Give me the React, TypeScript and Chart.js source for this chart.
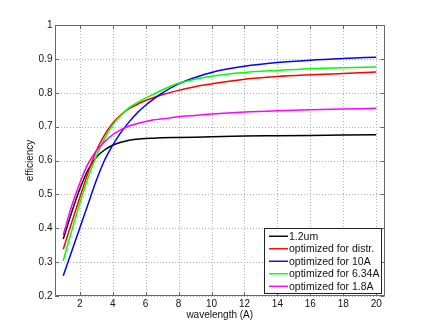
import React, { useEffect, useRef } from 'react';
import { Chart, registerables } from 'chart.js';

Chart.register(...registerables);

// wavelength (A)
const wavelength = [1, 1.5, 2, 2.5, 3, 3.5, 4, 4.5, 5, 5.5, 6, 6.5, 7, 8, 9, 10, 12, 14, 16, 18, 20];

const eff12um = [0.368, 0.445, 0.515, 0.572, 0.609, 0.631, 0.645, 0.654, 0.66, 0.663, 0.665, 0.666, 0.667, 0.668, 0.669, 0.67, 0.672, 0.673, 0.674, 0.675, 0.676];
const effDistr = [0.338, 0.415, 0.49, 0.563, 0.628, 0.675, 0.71, 0.735, 0.753, 0.766, 0.777, 0.786, 0.794, 0.807, 0.818, 0.826, 0.84, 0.848, 0.853, 0.857, 0.861];
const eff10A = [0.26, 0.33, 0.4, 0.47, 0.54, 0.6, 0.645, 0.683, 0.714, 0.741, 0.763, 0.782, 0.799, 0.826, 0.845, 0.86, 0.878, 0.889, 0.896, 0.901, 0.905];
const eff634A = [0.304, 0.39, 0.472, 0.548, 0.612, 0.664, 0.705, 0.733, 0.756, 0.771, 0.784, 0.796, 0.808, 0.828, 0.84, 0.849, 0.86, 0.866, 0.871, 0.874, 0.876];
const eff18A = [0.38, 0.464, 0.533, 0.59, 0.628, 0.655, 0.676, 0.691, 0.702, 0.709, 0.715, 0.72, 0.723, 0.729, 0.733, 0.737, 0.743, 0.747, 0.75, 0.752, 0.754];

const seriesLabels = ['1.2um', 'optimized for distr.', 'optimized for 10A', 'optimized for 6.34A', 'optimized for 1.8A'];
const seriesValues = [eff12um, effDistr, eff10A, eff634A, eff18A];
const seriesColors = ['#000000', '#ff0000', '#0000ff', '#00ff00', '#ff00ff'];

const xTicks = [2, 4, 6, 8, 10, 12, 14, 16, 18, 20];
const yTicks = [0.2, 0.3, 0.4, 0.5, 0.6, 0.7, 0.8, 0.9, 1];

const xTitle = 'wavelength (A)';
const yTitle = 'efficiency';

const FONT = '"Liberation Sans", Arial, Helvetica, sans-serif';

const framePlugin = {
  id: 'matlabFrame',
  beforeDatasetsDraw(chart: any) {
    const { ctx, chartArea } = chart;
    const { left, right, top, bottom } = chartArea;
    const xs = chart.scales.x;
    const ys = chart.scales.y;
    ctx.save();
    ctx.strokeStyle = '#b0b0b0';
    ctx.lineWidth = 1;
    ctx.setLineDash([1, 2]);
    ctx.beginPath();
    xTicks.forEach((v) => {
      const px = Math.round(xs.getPixelForValue(v)) + 0.5;
      ctx.moveTo(px, top);
      ctx.lineTo(px, bottom);
    });
    yTicks.forEach((v) => {
      const py = Math.round(ys.getPixelForValue(v)) + 0.5;
      ctx.moveTo(left, py);
      ctx.lineTo(right, py);
    });
    ctx.stroke();
    ctx.restore();
  },
  afterDatasetsDraw(chart: any) {
    const { ctx, chartArea } = chart;
    const { left, right, top, bottom } = chartArea;
    const xs = chart.scales.x;
    const ys = chart.scales.y;
    ctx.save();
    ctx.strokeStyle = '#666';
    ctx.lineWidth = 1;
    ctx.beginPath();
    ctx.rect(Math.round(left) + 0.5, Math.round(top) + 0.5, Math.round(right - left) - 1, Math.round(bottom - top) - 1);
    ctx.stroke();
    const tl = 4;
    ctx.beginPath();
    xTicks.forEach((v) => {
      const px = Math.round(xs.getPixelForValue(v)) + 0.5;
      ctx.moveTo(px, bottom);
      ctx.lineTo(px, bottom - tl);
      ctx.moveTo(px, top);
      ctx.lineTo(px, top + tl);
    });
    yTicks.forEach((v) => {
      const py = Math.round(ys.getPixelForValue(v)) + 0.5;
      ctx.moveTo(left, py);
      ctx.lineTo(left + tl, py);
      ctx.moveTo(right, py);
      ctx.lineTo(right - tl, py);
    });
    ctx.stroke();
    ctx.restore();
  },
  afterDraw(chart: any) {
    const { ctx, chartArea } = chart;
    const fontSize = 10.5;
    ctx.save();
    ctx.font = `${fontSize}px ${FONT}`;
    let maxW = 0;
    seriesLabels.forEach((t) => {
      maxW = Math.max(maxW, ctx.measureText(t).width);
    });
    const rowH = 12.5;
    const padL = 4.5;
    const lineLen = 19;
    const gap = 1;
    const w = padL + lineLen + gap + maxW + 3;
    const h = rowH * seriesLabels.length + 3;
    const x1 = Math.round(chartArea.right - 3.5) + 0.5;
    const y1 = Math.round(chartArea.bottom - 3.5) + 0.5;
    const x0 = Math.round(x1 - w) + 0.5;
    const y0 = Math.round(y1 - h) + 0.5;
    ctx.fillStyle = '#ffffff';
    ctx.fillRect(x0, y0, x1 - x0, y1 - y0);
    ctx.strokeStyle = '#222';
    ctx.lineWidth = 1;
    ctx.strokeRect(x0, y0, x1 - x0, y1 - y0);
    ctx.textBaseline = 'middle';
    ctx.textAlign = 'left';
    seriesLabels.forEach((t, i) => {
      const cy = y0 + 1.5 + rowH * (i + 0.5);
      ctx.strokeStyle = seriesColors[i];
      ctx.lineWidth = 1.4;
      ctx.beginPath();
      ctx.moveTo(x0 + padL, cy);
      ctx.lineTo(x0 + padL + lineLen, cy);
      ctx.stroke();
      ctx.fillStyle = '#111';
      ctx.fillText(t, x0 + padL + lineLen + gap, cy + 0.5);
    });
    ctx.restore();
  },
};

export default function App() {
  const canvasRef = useRef<HTMLCanvasElement | null>(null);

  useEffect(() => {
    const canvas = canvasRef.current;
    if (!canvas) return;
    const datasets = seriesLabels.map((label, i) => ({
      label,
      data: wavelength.map((x, j) => ({ x, y: seriesValues[i][j] })),
      borderColor: seriesColors[i],
      backgroundColor: seriesColors[i],
      borderWidth: 1.5,
      pointRadius: 0,
      fill: false,
      cubicInterpolationMode: 'monotone' as const,
      order: seriesLabels.length - i,
    }));

    const chart = new Chart(canvas, {
      type: 'line',
      data: { datasets },
      plugins: [framePlugin],
      options: {
        animation: false,
        responsive: false,
        devicePixelRatio: 1,
        layout: { padding: { left: 0, top: 25, right: 40.5, bottom: 0 } },
        plugins: {
          legend: { display: false },
          tooltip: { enabled: false },
          title: { display: false },
        },
        scales: {
          x: {
            type: 'linear',
            min: 0.5,
            max: 20.5,
            afterBuildTicks: (scale: any) => {
              scale.ticks = xTicks.map((v) => ({ value: v }));
            },
            afterFit: (scale: any) => {
              scale.height = 37;
            },
            grid: { display: false, drawTicks: false },
            border: { display: false },
            ticks: {
              autoSkip: false,
              maxRotation: 0,
              padding: 2.5,
              color: '#111',
              font: { family: FONT, size: 10 },
              callback: (v: any) => String(v),
            },
            title: {
              display: true,
              text: xTitle,
              color: '#111',
              font: { family: FONT, size: 10 },
              padding: { top: 0, bottom: 11.5 },
            },
          },
          y: {
            type: 'linear',
            min: 0.2,
            max: 1,
            afterBuildTicks: (scale: any) => {
              scale.ticks = yTicks.map((v) => ({ value: v }));
            },
            afterFit: (scale: any) => {
              scale.width = 55;
            },
            grid: { display: false, drawTicks: false },
            border: { display: false },
            ticks: {
              autoSkip: false,
              padding: 2.5,
              color: '#111',
              font: { family: FONT, size: 10 },
              callback: (v: any) => String(Math.round(v * 10) / 10),
            },
            title: {
              display: true,
              text: yTitle,
              color: '#111',
              font: { family: FONT, size: 10 },
              padding: { top: 24, bottom: 0 },
            },
          },
        },
      },
    });

    return () => {
      chart.destroy();
    };
  }, []);

  return (
    <div style={{ position: 'fixed', left: 0, top: 0, width: 425, height: 333, background: '#fff' }}>
      <canvas ref={canvasRef} width={425} height={333} style={{ display: 'block', width: 425, height: 333 }} />
    </div>
  );
}
